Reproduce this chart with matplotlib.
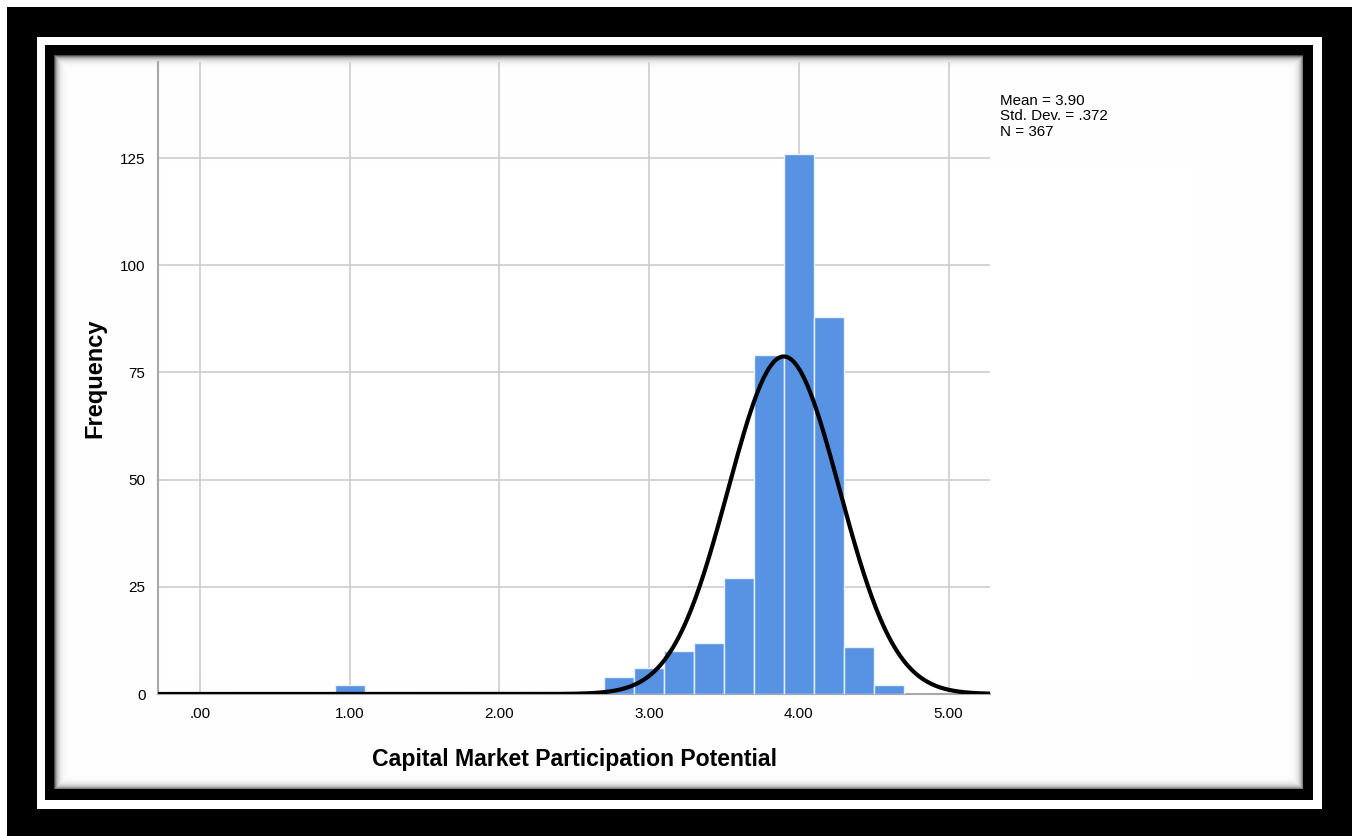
import numpy as np
import matplotlib
matplotlib.use("Agg")
import matplotlib.pyplot as plt

plt.rcParams["font.family"] = ["Liberation Sans", "DejaVu Sans"]

# histogram data (bin lower edge, count), bin width 0.2
bin_starts = [0.9, 2.7, 2.9, 3.1, 3.3, 3.5, 3.7, 3.9, 4.1, 4.3, 4.5]
counts = [2, 4, 6, 10, 12, 27, 79, 126, 88, 11, 2]
bin_width = 0.2

mean, std_dev, n_obs = 3.90, 0.372, 367

x_ticks = [0, 1, 2, 3, 4, 5]
x_tick_labels = [".00", "1.00", "2.00", "3.00", "4.00", "5.00"]
y_ticks = [0, 25, 50, 75, 100, 125]

W, H = 1356, 836
fig = plt.figure(figsize=(W / 100, H / 100), dpi=100)

# --- decorative frame (black border, white band, inner border with shadow)
bg = np.ones((H, W))
bg[7:, 7:1352] = 0.0
bg[37:809, 37:1322] = 1.0
bg[45:800, 45:1313] = 0.0
yy, xx = np.mgrid[0:H, 0:W]
x0, x1, y0, y1 = 54, 1303, 55, 789
d = np.minimum.reduce([xx - x0, x1 - xx, yy - y0, y1 - yy]).astype(float)
shade = 1 - 0.7 * np.exp(-d / 3.0)
inner = (xx >= x0) & (xx < x1) & (yy >= y0) & (yy < y1)
bg[inner] = shade[inner]
rgb = np.dstack([bg, bg, bg])
fig.figimage(rgb, xo=0, yo=0, origin="upper", zorder=-5)

# --- axes
left, right, top, bottom = 158, 990, 62, 694
ax = fig.add_axes([left / W, (H - bottom) / H, (right - left) / W, (bottom - top) / H])
ax.patch.set_alpha(0)
ax.set_xlim(-0.28, 5.277)
ax.set_ylim(0, 147.4)

ax.bar(bin_starts, counts, width=bin_width, align="edge", color="#5793e2",
       edgecolor="#eaf1fb", linewidth=1.0, zorder=3)

xs = np.linspace(-0.28, 5.277, 600)
ys = n_obs * bin_width * np.exp(-0.5 * ((xs - mean) / std_dev) ** 2) / (std_dev * np.sqrt(2 * np.pi))
ax.plot(xs, ys, color="black", lw=3, zorder=4, solid_capstyle="butt")

ax.set_xticks(x_ticks)
ax.set_xticklabels(x_tick_labels)
ax.set_yticks(y_ticks)
ax.tick_params(length=0, labelsize=11, pad=9)
ax.grid(True, color="#cccccc", lw=1.2, zorder=1)
ax.set_axisbelow(True)
for side in ["top", "right"]:
    ax.spines[side].set_visible(False)
ax.spines["left"].set_color("#a8a8a8")
ax.spines["left"].set_linewidth(1.5)
ax.spines["bottom"].set_color("#a8a8a8")
ax.spines["bottom"].set_linewidth(1.5)

ax.set_xlabel("Capital Market Participation Potential", fontsize=16.6, fontweight="bold", labelpad=20)
ax.set_ylabel("Frequency", fontsize=17, fontweight="bold", labelpad=10)

stats = f"Mean = {mean:.2f}\nStd. Dev. = .{int(round(std_dev * 1000))}\nN = {n_obs}"
fig.text(1000 / W, 1 - 94 / H, stats, fontsize=10.9, va="top", ha="left", linespacing=1.12)

fig.savefig("out.png", dpi=100)
